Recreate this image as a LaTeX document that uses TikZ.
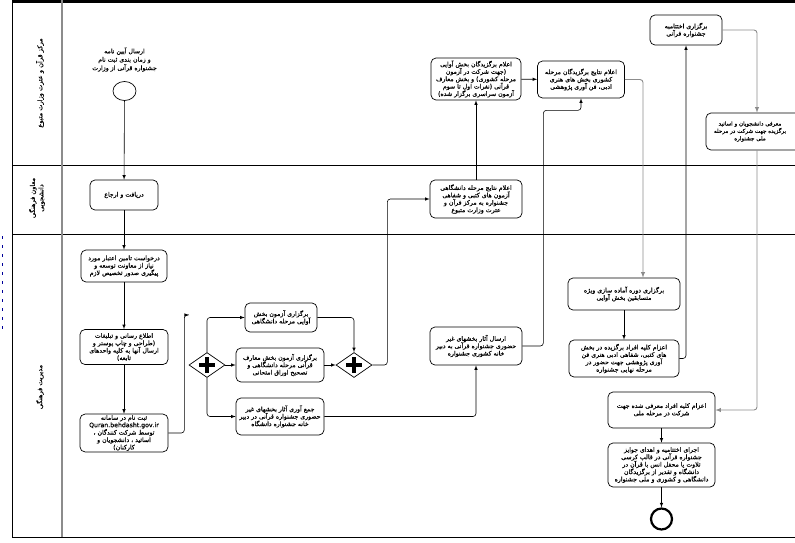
\documentclass[tikz,border=0pt]{standalone}
\usepackage{fontspec}
\usetikzlibrary{shapes.geometric, arrows, positioning}
\TeXXeTstate=1
\newfontfamily\arabicfont[Script=Arabic, FakeBold=0.4]{DejaVu Sans}
\newcommand{\fa}[1]{\beginR#1\endR}
\begin{document}
\begin{tikzpicture}[x=1pt, y=-1pt, >=latex]
		\tikzstyle{task}=[
		draw,
		rectangle,
		rounded corners=5pt,
		fill=white,
		align=center,
		inner sep=1pt,
		line width=0.7pt,
		font=\arabicfont\fontsize{6.2}{7.4}\selectfont]
		\tikzstyle{gate}=[
		draw,
		diamond,
		fill=white,
		line width=0.7pt,
		minimum width=36pt,
		minimum height=25pt,
		inner sep=0pt]
		\tikzstyle{lane}=[
		rotate=90,
		align=center,
		font=\arabicfont\fontsize{6.6}{8.4}\selectfont]
		\tikzstyle{flow}=[->, black, line width=0.6pt, rounded corners=3pt]
		\tikzstyle{flow_gray}=[->, black!45, line width=0.9pt, rounded corners=3pt]
		\useasboundingbox (0,0) rectangle (795,542);
		%
		% pool and lanes
		\draw[line width=2.5pt] (12,1.5) -- (795,1.5);
		\draw[line width=0.8pt] (12,0) -- (12,537) -- (795,537);
		\draw[line width=0.8pt] (12,165) -- (795,165);
		\draw[line width=0.8pt] (12,234) -- (795,234);
		\draw[black!45, line width=1.5pt] (62,0) -- (62,537);
		\draw[blue!60!black, line width=1pt, dash pattern=on 3pt off 6pt] (2,236) -- (2,330);
		\node[lane] (L_uni) at (40,83) {\fa{مرکز قرآن و عترت وزارت متبوع}};
		\node[lane] (L_dep) at (37,198) {\fa{معاون فرهنگی}\\\fa{دانشجویی}};
		\node[lane] (L_cul) at (40,387) {\fa{مدیریت فرهنگی}};
		%
		% left column
		\node[draw, ellipse, line width=0.7pt, minimum width=23pt, minimum height=19pt, inner sep=0pt] (start) at (124.5,91) {};
		\node[lane, rotate=-90, above=6pt of start, font=\arabicfont\fontsize{6.2}{8.4}\selectfont] (start_lbl) {\fa{ارسال آیین نامه}\\\fa{و زمان بندی ثبت نام}\\\fa{جشنواره قرآنی از وزارت}};
		\node[task, minimum width=68pt, minimum height=30pt] (get) at (124,195) {\fa{دریافت و ارجاع}};
		\node[task, below of=get, node distance=71pt, minimum width=86pt, minimum height=32pt] (req) {\fa{درخواست تامین اعتبار مورد}\\\fa{نیاز از معاونت توسعه و}\\\fa{پیگیری صدور تخصیص لازم}};
		\node[task, below of=req, node distance=81pt, minimum width=88pt, minimum height=35pt] (info) {\fa{اطلاع رسانی و تبلیغات}\\\fa{(طراحی و چاپ پوستر و}\\\fa{ارسال آنها به کلیه واحدهای}\\\fa{تابعه)}};
		\node[task, below of=info, node distance=86pt, minimum width=88pt, minimum height=36pt] (reg) {\fa{ثبت نام در سامانه}\\Quran.behdasht.gov.ir\\\fa{توسط شرکت کنندگان ،}\\\fa{اساتید ، دانشجویان و}\\\fa{کارکنان)}};
		\coordinate (loose) at (189,315);
		%
		% university stage
		\node[gate] (g_split) at (207,365) {};
		\node[task, minimum width=72pt, minimum height=29pt] (voice) at (281,317.5) {\fa{برگزاری آزمون بخش}\\\fa{آوایی مرحله دانشگاهی}};
		\node[task, minimum width=88pt, minimum height=34pt] (exam) at (280,365) {\fa{برگزاری آزمون بخش معارف}\\\fa{قرآنی مرحله دانشگاهی و}\\\fa{تصحیح اوراق امتحانی}};
		\node[task, minimum width=88pt, minimum height=37pt] (works) at (280,416.5) {\fa{جمع آوری آثار بخشهای غیر}\\\fa{حضوری جشنواره قرآنی در دبیر}\\\fa{خانه جشنواره دانشگاه}};
		\node[gate] (g_join) at (354,365) {};
		\foreach \g in {g_split, g_join}
			\draw[line width=3.2pt] (\g.center) ++(-8,0) -- ++(16,0) (\g.center) ++(0,-8) -- ++(0,16);
		%
		% results
		\node[task, minimum width=92pt, minimum height=38pt] (result) at (476,199) {\fa{اعلام نتایج مرحله دانشگاهی}\\\fa{آزمون های کتبی و شفاهی}\\\fa{جشنواره به مرکز قرآن و}\\\fa{عترت وزارت متبوع}};
		\node[task, minimum width=92pt, minimum height=38pt] (send) at (476,346) {\fa{ارسال آثار بخشهای غیر}\\\fa{حضوری جشنواره قرآنی به دبیر}\\\fa{خانه کشوری جشنواره}};
		\node[task, minimum width=90pt, minimum height=42pt] (winners) at (476,79) {\fa{اعلام برگزیدگان بخش آوایی}\\\fa{(جهت شرکت در آزمون}\\\fa{مرحله کشوری) و بخش معارف}\\\fa{قرآنی (نفرات اول تا سوم}\\\fa{آزمون سراسری برگزار شده)}};
		\node[task, minimum width=87pt, minimum height=37pt] (national) at (581,79.5) {\fa{اعلام نتایج برگزیدگان مرحله}\\\fa{کشوری بخش های هنری}\\\fa{ادبی، فن آوری پژوهشی}};
		%
		% final stage
		\node[task, minimum width=72pt, minimum height=30pt] (closing) at (686,30) {\fa{برگزاری اختتامیه}\\\fa{جشنواره قرآنی}};
		\node[task, minimum width=102pt, minimum height=37pt] (intro) at (757,131.5) {};
		\node[task, draw=none, fill=none, font=\arabicfont\fontsize{5.6}{7.4}\selectfont] (intro_txt) at (750,131.5) {\fa{معرفی دانشجویان و اساتید}\\\fa{برگزیده جهت شرکت در مرحله}\\\fa{ملی جشنواره}};
		\node[task, minimum width=112pt, minimum height=32pt] (train) at (624,294) {\fa{برگزاری دوره آماده سازی ویژه}\\\fa{متسابقین بخش آوایی}};
		\node[task, below of=train, node distance=64.5pt, minimum width=110pt, minimum height=37pt] (dispatch) {\fa{اعزام کلیه افراد برگزیده در بخش}\\\fa{های کتبی، شفاهی ادبی هنری فن}\\\fa{آوری پژوهشی جهت حضور در}\\\fa{مرحله نهایی جشنواره}};
		\node[task, minimum width=107pt, minimum height=36pt] (send_nat) at (661.5,410) {\fa{اعزام کلیه افراد معرفی شده جهت}\\\fa{شرکت در مرحله ملی}};
		\node[task, below of=send_nat, node distance=55pt, minimum width=107pt, minimum height=44pt] (ceremony) {\fa{اجرای اختتامیه و اهدای جوایز}\\\fa{جشنواره قرآنی در قالب کرسی}\\\fa{تلاوت یا محفل انس با قرآن در}\\\fa{دانشگاه و تقدیر از برگزیدگان}\\\fa{دانشگاهی و کشوری و ملی جشنواره}};
		\node[draw, circle, line width=2.2pt, minimum size=21pt, inner sep=0pt, below of=ceremony, node distance=54pt] (end) {};
		%
		\draw[flow] (start) -- (get);
		\draw[flow] (get) -- (req);
		\draw[flow] (req) -- (info);
		\draw[flow] (info) -- (reg);
		\draw[flow] (reg.east) -- ++(16,0) |- (loose);
		\draw[flow] (g_split.north) |- (voice.west);
		\draw[flow] (g_split.east) -- (exam.west);
		\draw[flow] (g_split.south) |- (works.west);
		\draw[flow] (voice.east) -| (g_join.north);
		\draw[flow] (exam.east) -- (g_join.west);
		\draw[flow] (g_join.east) -- ++(15,0) |- (result.west);
		\draw[flow] (works.east) -| (send.south);
		\draw[flow] (result) -- (winners);
		\draw[flow] (winners) -- (national);
		\draw[flow] (send.east) -- ++(21,0) |- ([yshift=-12pt]national.south) -- (national.south);
		\draw[flow_gray] (national.east) -| ([xshift=19pt]train.north);
		\draw[flow] (train) -- (dispatch);
		\draw[flow] (dispatch.east) -| (closing.south);
		\draw[flow_gray] (closing.east) -| (intro.north);
		\draw[flow_gray] (intro.south) |- (send_nat.east);
		\draw[flow] (send_nat) -- (ceremony);
		\draw[flow] (ceremony) -- (end);
	\end{tikzpicture}
\end{document}
